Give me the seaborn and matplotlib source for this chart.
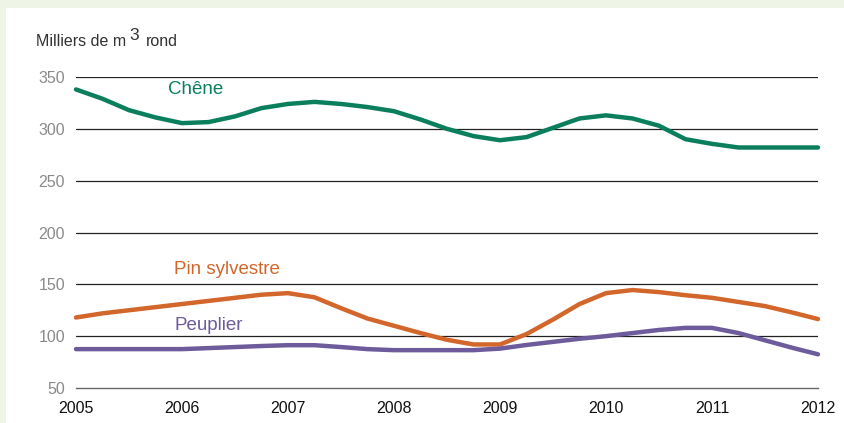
import matplotlib
matplotlib.use("Agg")
import matplotlib.pyplot as plt
import pandas as pd
import seaborn as sns

# quarterly readings, 2005 -> 2012
quarters = [2005 + i * 0.25 for i in range(29)]
chene = [338, 329, 318, 311, 305.5, 306.5, 312, 320, 324, 326, 324, 321, 317,
         309, 300, 293, 289, 292, 301, 310, 313, 310, 303, 290, 285.5, 282, 282, 282, 282]
pin = [118, 122, 125, 128, 131, 134, 137, 140, 141.5, 137.5, 127, 117, 110,
       103, 96.5, 92, 92, 102, 116, 131, 141.5, 144.5, 142.5, 139.5, 137, 133, 129, 123, 116.5]
peuplier = [87.5, 87.5, 87.5, 87.5, 87.5, 88.5, 89.5, 90.5, 91.3, 91.3, 89.5, 87.5, 86.5,
            86.5, 86.5, 86.5, 88, 91.5, 94.5, 97.5, 100, 103, 106, 108, 108, 103, 96, 89, 82.5]

series_names = ["Chêne", "Pin sylvestre", "Peuplier"]
palette = {"Chêne": "#0b7f5d", "Pin sylvestre": "#d2662b", "Peuplier": "#6d5b9c"}
year_ticks = list(range(2005, 2013))
value_ticks = [50, 100, 150, 200, 250, 300, 350]

df = pd.concat([
    pd.DataFrame({"annee": quarters, "volume": vals, "essence": name})
    for name, vals in zip(series_names, [chene, pin, peuplier])
])

sns.set_style("white")
plt.rcParams["font.family"] = ["Liberation Sans", "DejaVu Sans"]

fig = plt.figure(figsize=(8.45, 4.23), dpi=100)
fig.patch.set_facecolor("#eff5e6")
# white panel
fig.add_artist(plt.Rectangle((6 / 845, 0), 1, 1 - 8 / 423, transform=fig.transFigure,
                             facecolor="white", edgecolor="none", zorder=0))

ax = fig.add_axes([76 / 845, 35 / 423, 742 / 845, 311 / 423])
ax.set_facecolor("none")
for y in value_ticks[1:]:
    ax.axhline(y, color="#222222", lw=0.9, zorder=1)

sns.lineplot(data=df, x="annee", y="volume", hue="essence", palette=palette,
             linewidth=3.2, legend=False, ax=ax, zorder=3, clip_on=False)

ax.set_xlim(2005, 2012)
ax.set_ylim(50, 350)
ax.set_xticks(year_ticks)
ax.set_yticks(value_ticks)
ax.set_xlabel("")
ax.set_ylabel("")
for s in ["top", "right", "left"]:
    ax.spines[s].set_visible(False)
ax.spines["bottom"].set_color("#666666")
ax.spines["bottom"].set_linewidth(1.0)
ax.tick_params(axis="x", direction="in", length=5, width=1, color="#666666",
               labelsize=11.5, labelcolor="#111111", pad=9)
ax.tick_params(axis="y", length=0, labelsize=11.5, labelcolor="#8a8a8a", pad=8)

ax.text(2006.13, 337.5, "Chêne", color=palette["Chêne"], fontsize=13.5, ha="center", va="center")
ax.text(2006.42, 164.5, "Pin sylvestre", color=palette["Pin sylvestre"], fontsize=13.5,
        ha="center", va="center")
ax.text(2006.25, 110.5, "Peuplier", color=palette["Peuplier"], fontsize=13.5, ha="center", va="center")

fig.text(36 / 845, 1 - 42 / 423, "Milliers de m", fontsize=11.5, color="#333333", va="center")
fig.text(129 / 845, 1 - 36 / 423, "3", fontsize=12.5, color="#333333", va="center")
fig.text(146 / 845, 1 - 42 / 423, "rond", fontsize=11.5, color="#333333", va="center")

fig.savefig("out.png", dpi=100, facecolor=fig.get_facecolor())
